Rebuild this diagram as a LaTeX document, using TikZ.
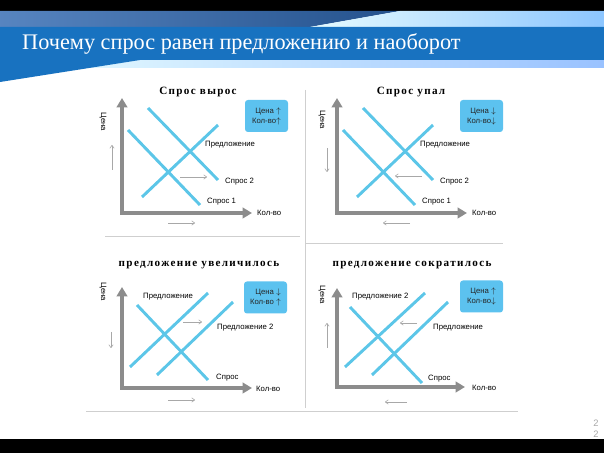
\documentclass[tikz,border=0pt]{standalone}
\usepackage{fontspec}
\setmainfont{Liberation Serif}
\newfontfamily\labfont{Liberation Sans}
\newfontfamily\headfont[LetterSpace=12]{Liberation Serif}
\usetikzlibrary{arrows.meta}
\definecolor{bandblue}{HTML}{1872C0}
\definecolor{topblue}{HTML}{2D66B0}
\definecolor{lineblue}{HTML}{5CC6E8}
\definecolor{boxblue}{HTML}{5CC2EF}
\definecolor{axisgray}{HTML}{8C8C8C}
\definecolor{hintgray}{HTML}{A8A8A8}
\definecolor{sepgray}{HTML}{CFCFCF}
\tikzset{
  curve/.style={line width=2.5pt,color=lineblue},
  axis/.style={line width=3.2pt,color=axisgray,{Triangle[length=8pt,width=9pt]}-{Triangle[length=8pt,width=9pt]}},
  hint/.style={line width=0.5pt,color=hintgray,-{To[length=3pt,width=4pt]}},
  lab/.style={font=\labfont\fontsize{6.6}{7}\selectfont,inner sep=0pt,anchor=west},
  headline/.style={font=\headfont\bfseries\fontsize{9.5}{10}\selectfont,inner sep=0pt},
  infobox/.style={fill=boxblue,rounded corners=2.5pt,minimum width=1.29cm,minimum height=0.96cm,
    align=right,inner sep=1pt,font=\labfont\fontsize{6.6}{8.5}\selectfont,text=black!85},
  sep/.style={line width=0.6pt,color=sepgray}
}
\begin{document}
\begin{tikzpicture}[x=0.03cm,y=-0.03cm]
\useasboundingbox (0,0) rectangle (604,453);
% banner
\fill[black] (0,0) rectangle (604,11);
\fill[black] (0,439) rectangle (604,453);
\shade[left color=topblue!80!white,right color=topblue!80!black] (0,11) -- (400,11) -- (310,27) -- (0,27) -- cycle;
\shade[left color=blue!15!cyan!10!white,right color=cyan!50!blue!45] (310,27) -- (400,11) -- (604,11) -- (604,27) -- cycle;
\shade[left color=cyan!8!white,right color=cyan!40!blue!40] (0,59) rectangle (604,68);
\fill[bandblue] (0,27) -- (604,27) -- (604,60) -- (140,60) -- (0,82) -- cycle;
\node[anchor=base west,text=white,inner sep=0pt,font=\fontsize{19}{21}\selectfont] (title) at (22,50) {Почему спрос равен предложению и наоборот};
% separators
\draw[sep] (105,236) -- (300,236);
\draw[sep] (305,243) -- (503,243);
\draw[sep] (305,90) -- (305,408);
\draw[sep] (86,411) -- (518,411);

% 1: спрос вырос
\node[headline] (h1) at (198,92) {Спрос вырос};
\draw[axis] (122,98) -- (122,213) -- (252,213);
\draw[curve] (128,130) -- (200,205);
\draw[curve] (148,108) -- (218,180);
\draw[curve] (142,197) -- (218,125);
\node[lab] (s1) at (205,145) {Предложение};
\node[lab] (d2a) at (225,182) {Спрос 2};
\node[lab] (d1a) at (207,202) {Спрос 1};
\node[lab] (q1) at (257,213) {Кол-во};
\node[lab,anchor=center,rotate=-90] (p1) at (103,122) {Цена};
\draw[hint] (112,170) -- (112,145);
\draw[hint] (180,177) -- (207,177);
\draw[hint] (168,223) -- (195,223);
\node[infobox] (b1) at (266.5,116) {Цена $\uparrow$\\Кол-во$\uparrow$};

% 2: спрос упал
\node[headline] (h2) at (411,92) {Спрос упал};
\draw[axis] (337,98) -- (337,213) -- (467,213);
\draw[curve] (343,130) -- (415,205);
\draw[curve] (363,108) -- (433,180);
\draw[curve] (357,197) -- (433,125);
\node[lab] (s2) at (420,145) {Предложение};
\node[lab] (d2b) at (440,182) {Спрос 2};
\node[lab] (d1b) at (422,202) {Спрос 1};
\node[lab] (q2) at (472,213) {Кол-во};
\node[lab,anchor=center,rotate=-90] (p2) at (322,120) {Цена};
\draw[hint] (327,148) -- (327,172);
\draw[hint] (422,176) -- (395,176);
\draw[hint] (410,223) -- (383,223);
\node[infobox] (b2) at (481.5,116) {Цена $\downarrow$\\Кол-во$\downarrow$};

% 3: предложение увеличилось
\node[headline] (h3) at (199,265) {предложение увеличилось};
\draw[axis] (122,287) -- (122,388) -- (252,388);
\draw[curve] (137,305) -- (208,380);
\draw[curve] (130,367) -- (208,293);
\draw[curve] (157,375) -- (233,302);
\node[lab] (s3a) at (143,297) {Предложение};
\node[lab] (s3b) at (217,328) {Предложение 2};
\node[lab] (d3) at (216,378) {Спрос};
\node[lab] (q3) at (256,389) {Кол-во};
\node[lab,anchor=center,rotate=-90] (p3) at (103,292) {Цена};
\draw[hint] (111,332) -- (111,348);
\draw[hint] (183,322) -- (202,322);
\draw[hint] (168,400) -- (195,400);
\node[infobox] (b3) at (265.5,297.5) {Цена $\downarrow$\\Кол-во $\uparrow$};

% 4: предложение сократилось
\node[headline] (h4) at (412,265) {предложение сократилось};
\draw[axis] (337,288) -- (337,387) -- (465,387);
\draw[curve] (350,307) -- (422,383);
\draw[curve] (345,367) -- (425,293);
\draw[curve] (372,375) -- (448,302);
\node[lab] (s4b) at (352,297) {Предложение 2};
\node[lab] (s4a) at (433,328) {Предложение};
\node[lab] (d4) at (428,379) {Спрос};
\node[lab] (q4) at (472,388) {Кол-во};
\node[lab,anchor=center,rotate=-90] (p4) at (322,295) {Цена};
\draw[hint] (327,348) -- (327,323);
\draw[hint] (417,323) -- (400,323);
\draw[hint] (407,402) -- (385,402);
\node[infobox] (b4) at (481.5,296.5) {Цена $\uparrow$\\Кол-во$\downarrow$};

% page number
\node[text=hintgray,font=\labfont\fontsize{8}{8}\selectfont,inner sep=0pt] (pg1) at (596,423) {2};
\node[text=hintgray,font=\labfont\fontsize{8}{8}\selectfont,inner sep=0pt] (pg2) at (596,434) {2};
\end{tikzpicture}
\end{document}
